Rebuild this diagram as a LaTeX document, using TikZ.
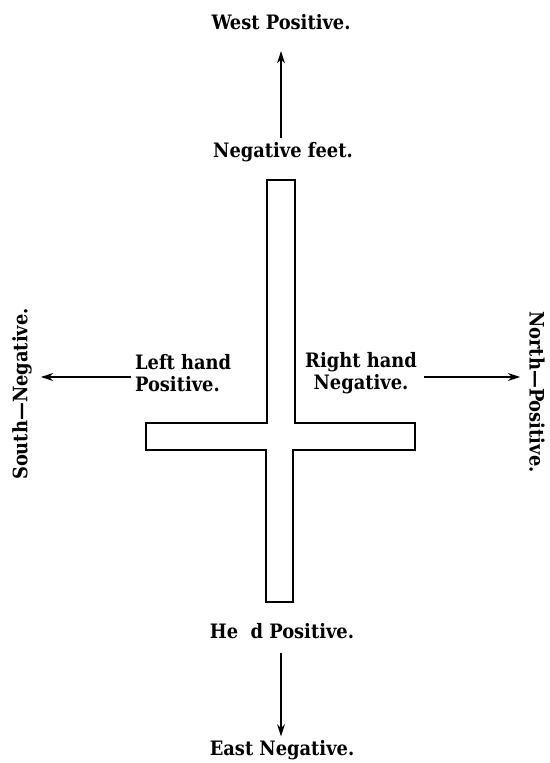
\documentclass[tikz,border=0pt]{standalone}
\usepackage{tikz}
\usepackage{fontspec}
\setmainfont{DejaVu Serif Condensed}
\usetikzlibrary{arrows.meta}

\tikzset{
  rotulo/.style={font=\fontsize{11.3}{12.8}\selectfont\bfseries, align=center, inner sep=1pt},
  flecha/.style={-{Stealth[length=7pt,width=4.5pt]}, line width=0.6pt},
  barra/.style={line width=0.8pt}
}

\begin{document}
\begin{tikzpicture}[x=0.02cm, y=-0.02cm]
		\useasboundingbox (0,0) rectangle (550,763);
		
		% Rótulos de arriba y abajo
		\node[rotulo] (west) at (281, 22) {West Positive.};
		\node[rotulo] (negfeet) at (283, 152) {Negative feet.};
		\node[rotulo] (head) at (282, 631) {He\ \ d Positive.};
		\node[rotulo] (east) at (282, 750) {East Negative.};
		
		% Rótulos de los lados
		\node[rotulo, align=left, anchor=west] (lefthand) at (133, 373) {Left hand\\Positive.};
		\node[rotulo] (righthand) at (361, 373) {Right hand\\Negative.};
		\node[rotulo, rotate=90] (south) at (22, 394) {South---Negative.};
		\node[rotulo, rotate=-90] (north) at (537, 392) {North---Positive.};
		
		% Flechas
		\draw[flecha, shorten <=1pt, shorten >=11pt] (negfeet.north -| 281,0) -- (west.south -| 281,0);
		\draw[flecha, shorten <=7pt, shorten >=1pt] (head.south -| 281,0) -- (east.north -| 281,0);
		\draw[flecha, shorten <=1pt, shorten >=4pt] (lefthand.west |- 0,377) -- (south.south |- 0,377);
		\draw[flecha, shorten <=3pt, shorten >=4pt] (righthand.east |- 0,377) -- (north.south |- 0,377);
		
		% La cruz
		\draw[barra] (267,180) -- (267,423) -- (146,423) -- (146,450) -- (266,450) -- (266,602)
			-- (293,602) -- (293,450) -- (415,450) -- (415,423) -- (295,423) -- (295,180) -- cycle;
		\draw[line width=1.4pt] (267,180) -- (295,180);
		\draw[line width=1.4pt] (266,602) -- (293,602);
	\end{tikzpicture}
\end{document}
